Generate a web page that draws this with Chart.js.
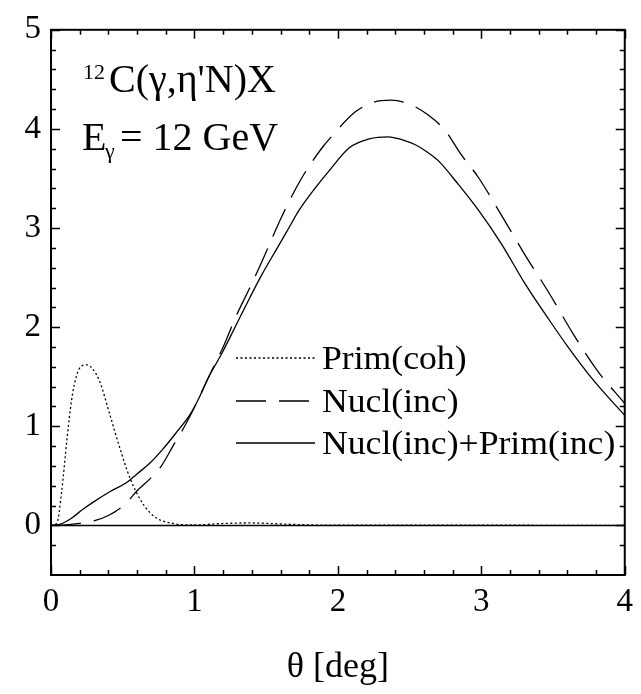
<!DOCTYPE html>
<html>
<head>
<meta charset="utf-8">
<script src="https://cdn.jsdelivr.net/npm/chart.js@4/dist/chart.umd.min.js"></script>
<style>
html, body { margin: 0; padding: 0; background: #fff; }
</style>
</head>
<body>
<canvas id="thetaChart" width="641" height="694"></canvas>
<script>
// theta [deg] grids and curve values
const primCohTheta = [0, 0.04, 0.075, 0.11, 0.145, 0.18, 0.215, 0.25, 0.29, 0.34, 0.41, 0.48, 0.55, 0.64, 0.73, 0.85, 1.0, 1.2, 1.4, 1.6, 1.8, 2.0, 2.5, 3.0, 3.5, 4.0];
const primCohValues = [0, 0.02, 0.35, 0.85, 1.28, 1.52, 1.61, 1.62, 1.58, 1.45, 1.12, 0.78, 0.48, 0.22, 0.08, 0.02, 0.005, 0.02, 0.025, 0.015, 0.005, 0.002, 0.002, 0.003, 0.001, 0];

const nuclTheta = [0, 0.1, 0.2, 0.31, 0.4, 0.48, 0.54, 0.6, 0.69, 0.76, 0.87, 0.92, 1.02, 1.1, 1.2, 1.29, 1.38, 1.47, 1.61, 1.75, 1.89, 1.96, 2.12, 2.25, 2.37, 2.5, 2.63, 2.75, 2.86, 2.98, 3.14, 3.30, 3.47, 3.65, 3.81, 4.0];
const nuclValues = [0, 0.005, 0.02, 0.05, 0.1, 0.17, 0.25, 0.35, 0.47, 0.58, 0.85, 0.97, 1.25, 1.5, 1.8, 2.11, 2.38, 2.66, 3.12, 3.51, 3.81, 3.93, 4.17, 4.27, 4.29, 4.25, 4.14, 3.98, 3.74, 3.51, 3.13, 2.74, 2.35, 1.91, 1.56, 1.23];

const sumTheta = [0, 0.06, 0.14, 0.22, 0.3, 0.41, 0.525, 0.6, 0.69, 0.78, 0.87, 0.97, 1.03, 1.09, 1.2, 1.29, 1.38, 1.47, 1.57, 1.65, 1.73, 1.84, 1.94, 2.08, 2.22, 2.35, 2.45, 2.54, 2.62, 2.70, 2.84, 2.98, 3.14, 3.30, 3.47, 3.60, 3.79, 4.0];
const sumValues = [0, 0.01, 0.07, 0.16, 0.24, 0.34, 0.43, 0.52, 0.63, 0.77, 0.93, 1.12, 1.28, 1.47, 1.76, 2.02, 2.28, 2.53, 2.78, 2.98, 3.18, 3.40, 3.58, 3.81, 3.90, 3.92, 3.89, 3.84, 3.77, 3.68, 3.44, 3.18, 2.84, 2.45, 2.08, 1.81, 1.45, 1.11];

const seriesLabels = ['Prim(coh)', 'Nucl(inc)', 'Nucl(inc)+Prim(inc)'];

const SERIF = '"Liberation Serif", "Times New Roman", serif';

function toPoints(xs, ys) {
    return xs.map((x, i) => ({ x: x, y: ys[i] }));
}

// text drawn a little wider, like the original figure
function wideText(ctx, text, x, y, sx) {
    ctx.save();
    ctx.translate(x, y);
    ctx.scale(sx, 1);
    ctx.fillText(text, 0, 0);
    ctx.restore();
}

// frame, inward ticks, zero line, legend and the reaction text
const framePlugin = {
    id: 'frame',
    afterDatasetsDraw(chart) {
        const ctx = chart.ctx;
        const a = chart.chartArea;
        const xs = chart.scales.x, ys = chart.scales.y;
        ctx.save();
        ctx.strokeStyle = '#000';

        // zero line
        ctx.lineWidth = 1.5;
        const y0 = ys.getPixelForValue(0);
        ctx.beginPath();
        ctx.moveTo(a.left, y0);
        ctx.lineTo(a.right, y0);
        ctx.stroke();

        // ticks on all four sides
        ctx.lineWidth = 1.5;
        const isStep = v => Math.abs(v / 0.2 - Math.round(v / 0.2)) < 1e-6;
        const isMajor = v => Math.abs(v - Math.round(v)) < 1e-6;
        ctx.beginPath();
        xs.ticks.forEach(t => {
            if (!isStep(t.value)) return;
            const px = Math.round(xs.getPixelForValue(t.value)) + 0.5;
            const len = isMajor(t.value) ? 9 : 5;
            ctx.moveTo(px, a.bottom); ctx.lineTo(px, a.bottom - len);
            ctx.moveTo(px, a.top); ctx.lineTo(px, a.top + len);
        });
        ys.ticks.forEach(t => {
            if (!isStep(t.value)) return;
            const py = Math.round(ys.getPixelForValue(t.value)) + 0.5;
            const len = isMajor(t.value) ? 9 : 5;
            ctx.moveTo(a.left, py); ctx.lineTo(a.left + len, py);
            ctx.moveTo(a.right, py); ctx.lineTo(a.right - len, py);
        });
        ctx.stroke();

        // frame
        ctx.lineWidth = 2;
        ctx.strokeRect(a.left, a.top, a.right - a.left, a.bottom - a.top);

        // legend
        ctx.fillStyle = '#000';
        ctx.font = '33px ' + SERIF;
        ctx.textAlign = 'left';
        ctx.textBaseline = 'alphabetic';
        const legendY = [358, 401, 443];
        chart.data.datasets.forEach((ds, i) => {
            ctx.save();
            ctx.lineWidth = ds.borderWidth;
            ctx.setLineDash(ds.borderDash || []);
            ctx.beginPath();
            ctx.moveTo(236, legendY[i]);
            ctx.lineTo(315, legendY[i]);
            ctx.stroke();
            ctx.restore();
            wideText(ctx, ds.label, 322, legendY[i] + 11, 1.08);
        });

        // reaction label
        ctx.font = '22px ' + SERIF;
        ctx.fillText('12', 83, 79);
        ctx.font = '40px ' + SERIF;
        ctx.fillText('C(\u03b3,\u03b7\'N)X', 109, 92);

        ctx.fillText('E', 82, 150);
        ctx.font = '22px ' + SERIF;
        ctx.fillText('\u03b3', 105, 158);
        ctx.font = '40px ' + SERIF;
        ctx.fillText('= 12 GeV', 120, 150);

        ctx.restore();
    }
};

function createChart() {
    const ctx = document.getElementById('thetaChart').getContext('2d');
    new Chart(ctx, {
        type: 'line',
        data: {
            datasets: [{
                label: seriesLabels[0],
                data: toPoints(primCohTheta, primCohValues),
                borderColor: '#000',
                borderWidth: 1.3,
                borderDash: [2, 2.5]
            }, {
                label: seriesLabels[1],
                data: toPoints(nuclTheta, nuclValues),
                borderColor: '#000',
                borderWidth: 1.3,
                borderDash: [30, 13]
            }, {
                label: seriesLabels[2],
                data: toPoints(sumTheta, sumValues),
                borderColor: '#000',
                borderWidth: 1.3
            }]
        },
        options: {
            responsive: false,
            animation: false,
            layout: { padding: { top: 24, right: 13, left: 0, bottom: 0 } },
            elements: {
                point: { radius: 0 },
                line: { cubicInterpolationMode: 'monotone', fill: false }
            },
            scales: {
                x: {
                    type: 'linear',
                    min: 0,
                    max: 4,
                    grid: { display: false, drawTicks: false },
                    border: { display: false },
                    ticks: {
                        stepSize: 0.2,
                        autoSkip: false,
                        maxRotation: 0,
                        padding: 8,
                        color: '#000',
                        font: { family: SERIF, size: 33 },
                        callback: v => Math.abs(v - Math.round(v)) < 1e-6 ? String(Math.round(v)) : ''
                    },
                    title: {
                        display: true,
                        text: '\u03b8 [deg]',
                        color: '#000',
                        font: { family: SERIF, size: 36 },
                        padding: { top: 0, bottom: 5 }
                    },
                    afterFit: s => { s.height = 119; }
                },
                y: {
                    min: -0.5,
                    max: 5,
                    grid: { display: false, drawTicks: false },
                    border: { display: false },
                    ticks: {
                        stepSize: 0.2,
                        autoSkip: false,
                        padding: 10,
                        color: '#000',
                        font: { family: SERIF, size: 33 },
                        callback: v => Math.abs(v - Math.round(v)) < 1e-6 ? String(Math.round(v)) : ''
                    },
                    afterFit: s => { s.width = 51; }
                }
            },
            plugins: {
                legend: { display: false },
                tooltip: { enabled: false }
            }
        },
        plugins: [framePlugin]
    });
}

window.onload = createChart;
</script>
</body>
</html>
